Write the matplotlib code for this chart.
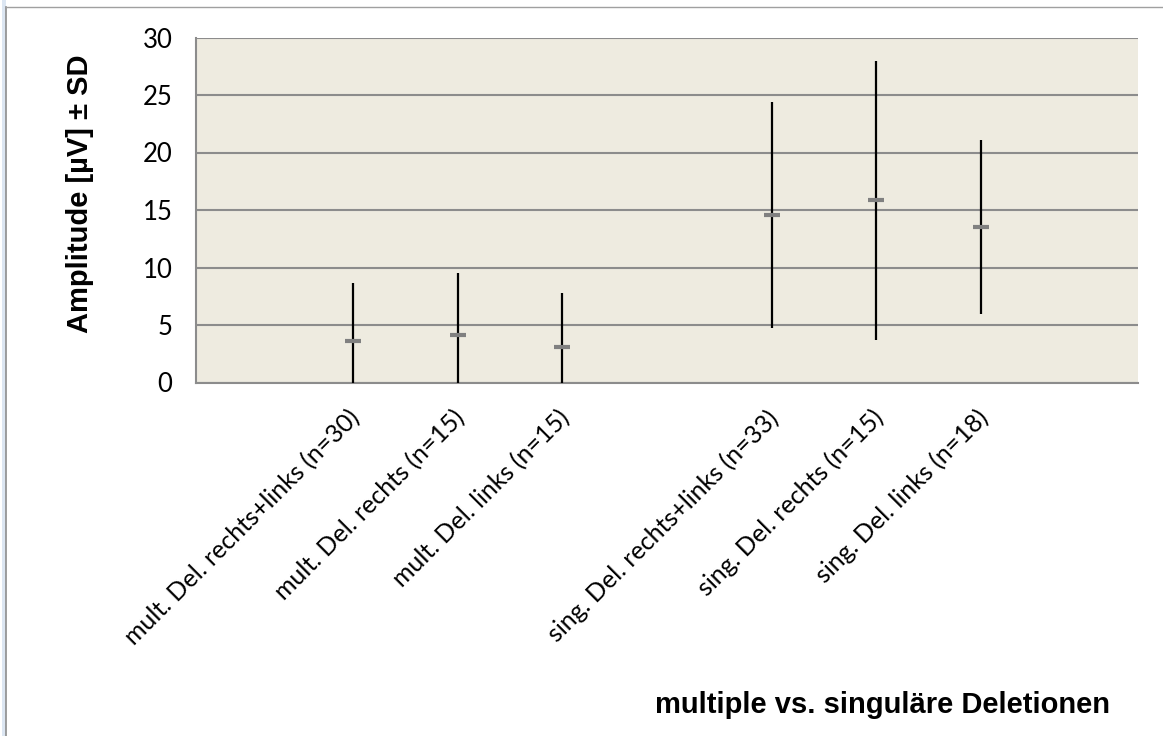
import numpy as np
import matplotlib.pyplot as plt
import matplotlib.transforms as mtransforms
from matplotlib.lines import Line2D
from matplotlib.patches import Rectangle

# categories (empty slots act as gaps like in the original chart)
categories = ["", "mult. Del. rechts+links (n=30)", "mult. Del. rechts (n=15)",
              "mult. Del. links (n=15)", "", "sing. Del. rechts+links (n=33)",
              "sing. Del. rechts (n=15)", "sing. Del. links (n=18)", ""]
means = [np.nan, 3.62, 4.11, 3.10, np.nan, 14.55, 15.85, 13.52, np.nan]
sds = [np.nan, 5.0, 5.38, 4.71, np.nan, 9.8, 12.15, 7.6, np.nan]
yticks = [0, 5, 10, 15, 20, 25, 30]

fig = plt.figure(figsize=(11.63, 7.36), dpi=100)
ax = fig.add_axes([196 / 1163, 1 - 382.5 / 736, (1138 - 196) / 1163, (382.5 - 37.5) / 736])
ax.set_facecolor('#eeebe0')

x = np.arange(len(categories))
m = np.array(means)
s = np.array(sds)
ok = ~np.isnan(m)

ax.errorbar(x[ok], m[ok], yerr=s[ok], fmt='none', ecolor='black',
            elinewidth=1.6, capsize=0, zorder=3)
ax.plot(x[ok], m[ok], linestyle='none', marker='_', ms=11, mew=3,
        color='#808080', zorder=4)

ax.set_xlim(-0.5, len(categories) - 0.5)
ax.set_ylim(0, 30)
ax.set_yticks(yticks)
ax.yaxis.grid(True, color='#8c8c8c', linewidth=1.5)
ax.set_axisbelow(True)

ax.set_xticks(x[ok])
ax.set_xticklabels([c for c in categories if c], rotation=45, ha='right',
                   va='top', rotation_mode='anchor', fontsize=18, family='Lato')
ax.tick_params(axis='x', length=0, pad=6)
ax.tick_params(axis='y', length=0, pad=17, labelsize=18.5)
for lab in ax.get_yticklabels():
    lab.set_family('Lato')
shift = mtransforms.ScaledTranslation(-0.05, -0.15, fig.dpi_scale_trans)
for lab in ax.get_xticklabels():
    lab.set_transform(lab.get_transform() + shift)

for side in ['top', 'right']:
    ax.spines[side].set_visible(False)
for side in ['left', 'bottom']:
    ax.spines[side].set_color('#8c8c8c')
    ax.spines[side].set_linewidth(1.5)

fig.text(80 / 1163, 1 - 194 / 736, 'Amplitude [µV] ± SD', rotation=90,
         ha='center', va='center', fontsize=21, fontweight='bold',
         family='Liberation Sans')
fig.text(882 / 1163, 1 - 705 / 736, 'multiple vs. singuläre Deletionen',
         ha='center', va='center', fontsize=21, fontweight='bold',
         family='Liberation Sans')

# outer frame decoration
fig.add_artist(Rectangle((2 / 1163, 0), 3.5 / 1163, 1, transform=fig.transFigure,
                         color='#dce6f2', lw=0))
fig.add_artist(Line2D([6 / 1163, 6 / 1163], [0, 1 - 7 / 736], transform=fig.transFigure,
                      color='#8c8c8c', lw=1.2))
fig.add_artist(Line2D([6 / 1163, 1], [1 - 7 / 736, 1 - 7 / 736], transform=fig.transFigure,
                      color='#a0a0a0', lw=1.0))

fig.savefig('out.png', dpi=100)
